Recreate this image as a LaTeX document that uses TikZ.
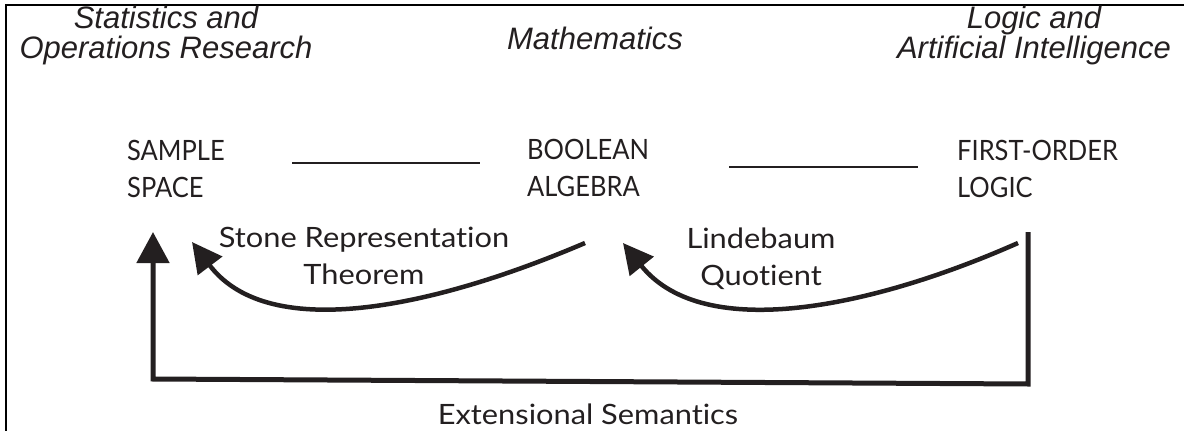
\documentclass[tikz,border=0pt]{standalone}
\usepackage{fontspec}
\setmainfont{Lato}[RawFeature={-liga}]
\newfontfamily\capsfont{Lato}[FakeStretch=0.91,RawFeature={-liga}]
\newfontfamily\lblfont{Lato}[FakeStretch=1.10,RawFeature={-liga}]
\newfontfamily\hdrfont{Liberation Sans}
\usetikzlibrary{arrows.meta,calc}
\definecolor{ink}{RGB}{35,31,32}
\begin{document}
\begin{tikzpicture}[x=1pt,y=-1pt,
  every node/.style={text=ink},
  hdr/.style={font=\hdrfont\itshape\fontsize{31}{29.5}\selectfont, align=center, inner sep=0pt, anchor=north},
  caps/.style={font=\capsfont\fontsize{28}{37}\selectfont, align=left, inner sep=0pt, anchor=north west},
  lbl/.style={font=\lblfont\fontsize{28}{37}\selectfont, align=center, inner sep=0pt, anchor=north},
  rule/.style={draw=ink, line width=2pt},
  bigarrow/.style={draw=ink, line width=4.5pt, -{Triangle[length=30pt,width=30pt]}},
  frameline/.style={draw=black, line width=2.5pt}]
\useasboundingbox (0,0) rectangle (1184,431);

% frame
\draw[frameline] (1184,5) -- (6,5) -- (6,431);

% headers
\node[hdr] (stat) at (166,6) {Statistics and\\Operations Research};
\node[hdr] (math) at (595,27) {Mathematics};
\node[hdr] (logic) at (1034,6) {Logic and\\Artificial Intelligence};

% main nodes
\node[caps] (sample) at (127,140) {SAMPLE\\SPACE};
\node[caps] (boolean) at (527,139) {BOOLEAN\\ALGEBRA};
\node[caps] (fol) at (957,140) {FIRST-ORDER\\LOGIC};

% labels
\node[lbl] (stone) at (364,227) {Stone Representation\\Theorem};
\node[lbl] (linde) at (761,228) {Lindebaum\\Quotient};
\node[lbl] (ext) at (588,404) {Extensional Semantics};

% connector coordinates
\coordinate (l1a) at (292,163);
\coordinate (l1b) at (480,163);
\coordinate (l2a) at (729,167);
\coordinate (l2b) at (918,167);
\coordinate (srs) at (585,243);
\coordinate (sre) at (192,242);
\coordinate (lqs) at (1018,243);
\coordinate (lqe) at (623,243);
\coordinate (ess) at (1028,232);
\coordinate (esr) at (1028,384);
\coordinate (esl) at (153,379);
\coordinate (ese) at (153,232);

% plain rules between the concepts
\draw[rule] (l1a) -- (l1b);
\draw[rule] (l2a) -- (l2b);

% curved arrows
\draw[bigarrow] (srs) .. controls (440,305) and (270,345) .. (sre);
\draw[bigarrow] (lqs) .. controls (878,305) and (705,345) .. (lqe);

% extensional semantics connector
\draw[draw=ink, line width=5pt, line join=miter, -{Triangle[length=31pt,width=32pt]}]
  (ess) -- (esr) -- (esl) -- (ese);
\end{tikzpicture}
\end{document}
